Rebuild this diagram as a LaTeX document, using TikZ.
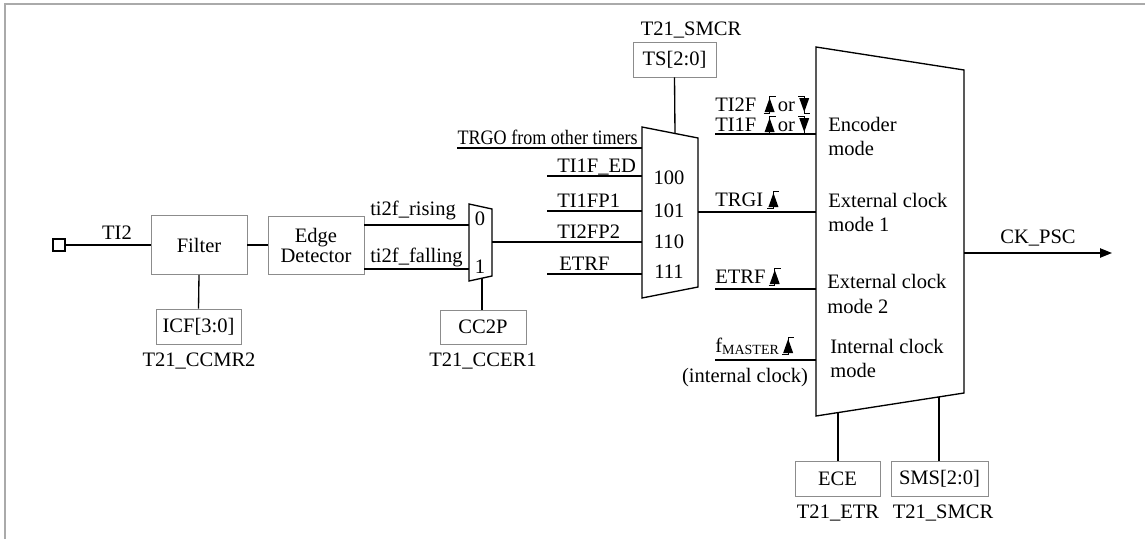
\documentclass[tikz,border=0pt]{standalone}
\usepackage{fontspec}
\setmainfont{Liberation Serif}
\newfontfamily\narrowserif[FakeStretch=0.88]{Liberation Serif}
\usetikzlibrary{arrows.meta,calc}
\definecolor{boxgray}{RGB}{140,140,140}
\definecolor{framegray}{RGB}{170,170,170}
\begin{document}
\begin{tikzpicture}[x=0.75pt,y=-0.75pt,font=\fontsize{15.4}{18}\selectfont,
  wire/.style={line width=1pt,black},
  box/.style={draw=boxgray,line width=0.7pt,inner sep=0pt,align=center},
  lb/.style={inner sep=0pt,anchor=base},
  lbw/.style={inner sep=0pt,anchor=base west},
  lbe/.style={inner sep=0pt,anchor=base east},
  mux/.style={draw,line width=1pt,line join=miter},
  rise/.pic={\fill (-5,7) -- (5,7) -- (0,-7) -- cycle;
             \draw[line width=0.5pt] (-6,8.5) -- (0,8.5) -- (0,-8.5) -- (6,-8.5);},
  fall/.pic={\fill (-5,-7) -- (5,-7) -- (0,7) -- cycle;
             \draw[line width=0.5pt] (-6,-8.5) -- (0,-8.5) -- (0,8.5) -- (6,8.5);}
]
\useasboundingbox (0,0) rectangle (1145,539);
% frame
\draw[framegray,line width=1.5pt] (5,539) -- (5,3.5) -- (1145,3.5);

% boxes
\node[draw,line width=0.8pt,minimum size=9pt,inner sep=0pt] (pin) at (59,245) {};
\node[box,minimum width=72pt,minimum height=44.25pt] (filter) at (199,245) {Filter};
\node[box,minimum width=72pt,minimum height=43.5pt] (edge) at (316,245) {Edge\\[-3pt]Detector};
\node[box,minimum width=63.75pt,minimum height=26.25pt] (icf) at (198.5,326.5) {ICF[3:0]};
\node[box,minimum width=64.5pt,minimum height=25.5pt] (cc2p) at (483,327) {CC2P};
\node[box,minimum width=62.25pt,minimum height=26.25pt] (ts) at (674.5,59.5) {TS[2:0]};
\node[box,minimum width=63.75pt,minimum height=26.25pt] (ece) at (837.5,478.5) {ECE};
\node[box,minimum width=72.75pt,minimum height=26.25pt] (sms) at (939.5,478.5) {SMS[2:0]};

% register labels
\node[lb] (l-ccmr2) at (199,366) {T21\_CCMR2};
\node[lb] (l-ccer1) at (483,366) {T21\_CCER1};
\node[lb] (l-etr) at (838,518) {T21\_ETR};
\node[lb] (l-smcr2) at (943,518) {T21\_SMCR};
\node[lb] (l-smcr1) at (691,35) {T21\_SMCR};

% small mux
\coordinate (sm-tl) at (469,204); \coordinate (sm-tr) at (492,209);
\coordinate (sm-br) at (492,276); \coordinate (sm-bl) at (469,281);
\draw[mux] (sm-tl) -- (sm-tr) -- (sm-br) -- (sm-bl) -- cycle;
\coordinate (sm-in0) at (469,225); \coordinate (sm-in1) at (469,269);
\coordinate (sm-out) at (492,242); \coordinate (sm-sel) at (482,278.2);
\node[lb] (m0) at (480,225) {0};
\node[lb] (m1) at (480,273) {1};

% big TS mux
\coordinate (bm-tl) at (642,127); \coordinate (bm-tr) at (698,138);
\coordinate (bm-br) at (698,287); \coordinate (bm-bl) at (642,298);
\draw[mux] (bm-tl) -- (bm-tr) -- (bm-br) -- (bm-bl) -- cycle;
\coordinate (bm-trgo) at (642,148); \coordinate (bm-100) at (642,176);
\coordinate (bm-101) at (642,211); \coordinate (bm-110) at (642,242);
\coordinate (bm-111) at (642,274); \coordinate (bm-out) at (698,212);
\coordinate (bm-sel) at (675,133.5);
\node[lb] (n100) at (669,184) {100};
\node[lb] (n101) at (669,217) {101};
\node[lb] (n110) at (669,248) {110};
\node[lb] (n111) at (669,278) {111};

% mode mux
\coordinate (mm-tl) at (816,47); \coordinate (mm-tr) at (964,70);
\coordinate (mm-br) at (964,393); \coordinate (mm-bl) at (816,416);
\draw[mux] (mm-tl) -- (mm-tr) -- (mm-br) -- (mm-bl) -- cycle;
\coordinate (mm-enc) at (816,134); \coordinate (mm-ext1) at (816,212);
\coordinate (mm-ext2) at (816,289); \coordinate (mm-int) at (816,360);
\coordinate (mm-out) at (964,253);
\coordinate (mm-ece) at (838,412.6); \coordinate (mm-sms) at (939,396.9);
\node[lbw] (t-enc1) at (828,131) {Encoder};
\node[lbw] (t-enc2) at (828,155) {mode};
\node[lbw] (t-ex11) at (828,207) {External clock};
\node[lbw] (t-ex12) at (828,231) {mode 1};
\node[lbw] (t-ex21) at (827,288) {External clock};
\node[lbw] (t-ex22) at (827,313) {mode 2};
\node[lbw] (t-int1) at (830,353) {Internal clock};
\node[lbw] (t-int2) at (830,377) {mode};

% free ends
\coordinate (ed-start) at (547,176);
\coordinate (fp1-start) at (547,211);
\coordinate (etrf1-start) at (547,274);
\coordinate (enc-start) at (715,134);
\coordinate (etrf2-start) at (715,289);
\coordinate (fm-start) at (715,360);
\coordinate (ck-end) at (1112,253);

% signal labels
\node[lb] (l-ti2) at (117,239) {TI2};
\node[lbw] (l-rise) at (370,215) {ti2f\_rising};
\node[lbw] (l-fall) at (370,262) {ti2f\_falling};
\node[lbe,font=\fontsize{15.4}{18}\narrowserif] (l-trgo) at (638,144) {TRGO from other timers};
\node[lbw] (l-ed) at (557,172) {TI1F\_ED};
\node[lbw] (l-fp1) at (557,207) {TI1FP1};
\node[lbw] (l-fp2) at (557,238) {TI2FP2};
\node[lbw] (l-etrf1) at (559,270) {ETRF};
\node[lbw] (l-ti2f) at (715,111) {TI2F};
\node[lbw] (l-or2) at ($(l-ti2f.base east)+(21,0)$) {or};
\node[lbw] (l-ti1f) at (715,131) {TI1F};
\node[lbw] (l-or1) at ($(l-ti1f.base east)+(21,0)$) {or};
\node[lbw] (l-trgi) at (715,206) {TRGI};
\node[lbw] (l-etrf2) at (715,283) {ETRF};
\node[lbw] (l-fm) at (715,352) {f\raisebox{-0.3ex}{\fontsize{10.5}{12}\selectfont MASTER}};
\node[lb] (l-intclk) at (745,382) {(internal clock)};
\node[lb] (l-ck) at (1038,243) {CK\_PSC};

\pic at ($(l-ti2f.base east)+(13,-6)$) {rise};
\pic at ($(l-or2.base east)+(9,-6)$) {fall};
\pic at ($(l-ti1f.base east)+(13,-6)$) {rise};
\pic at ($(l-or1.base east)+(9,-6)$) {fall};
\pic at ($(l-trgi.base east)+(10,-6)$) {rise};
\pic at ($(l-etrf2.base east)+(9,-6)$) {rise};
\pic at ($(l-fm.base east)+(9,-6)$) {rise};

% connectors
\draw[wire] (pin.east) -- (filter.west);
\draw[wire] (filter.south) -- (icf.north);
\draw[wire] (filter.east) -- (edge.west);
\draw[wire] (sm-in0 -| edge.east) -- (sm-in0);
\draw[wire] (sm-in1 -| edge.east) -- (sm-in1);
\draw[wire] (sm-sel) -- (sm-sel |- cc2p.north);
\draw[wire] (sm-out) -- (bm-110);
\draw[wire] (bm-trgo -| l-trgo.west) -- (bm-trgo);
\draw[wire] (ed-start) -- (bm-100);
\draw[wire] (fp1-start) -- (bm-101);
\draw[wire] (etrf1-start) -- (bm-111);
\draw[wire] (ts.south) -- (bm-sel);
\draw[wire] (bm-out) -- (mm-ext1);
\draw[wire] (enc-start) -- (mm-enc);
\draw[wire] (etrf2-start) -- (mm-ext2);
\draw[wire] (fm-start) -- (mm-int);
\draw[wire] (mm-ece) -- (mm-ece |- ece.north);
\draw[wire] (mm-sms) -- (mm-sms |- sms.north);
\draw[wire,-{Triangle[length=9pt,width=7pt]}] (mm-out) -- (ck-end);
\end{tikzpicture}
\end{document}
